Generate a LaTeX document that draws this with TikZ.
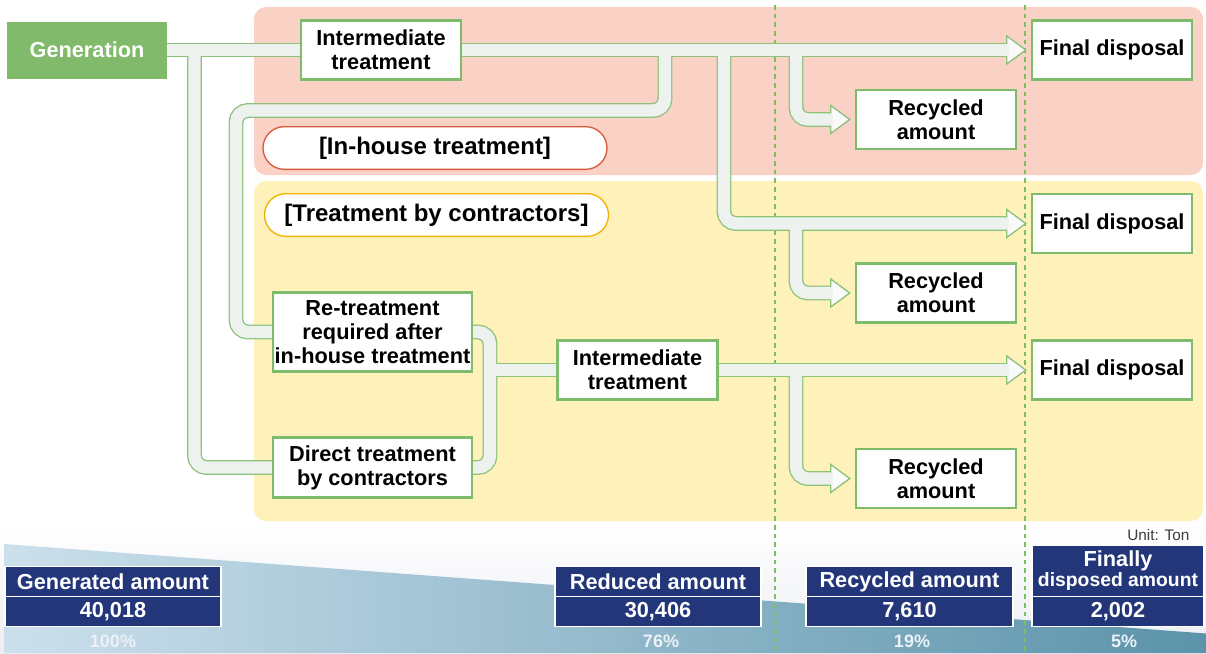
\documentclass[tikz,border=0pt]{standalone}
\usepackage{fontspec}
\setmainfont{Liberation Sans}
\usetikzlibrary{calc,positioning}

\definecolor{pinkbg}{RGB}{249,209,197}
\definecolor{yellowbg}{RGB}{254,241,186}
\definecolor{boxgreen}{RGB}{126,187,107}
\definecolor{gengreen}{RGB}{128,186,106}
\definecolor{pipegreen}{RGB}{141,194,125}
\definecolor{pipefill}{RGB}{238,242,238}
\definecolor{dashgreen}{RGB}{125,190,95}
\definecolor{navy}{RGB}{36,54,122}
\definecolor{pillred}{RGB}{214,90,62}
\definecolor{pillorange}{RGB}{240,180,0}
\definecolor{pctwhite}{RGB}{235,241,246}
\definecolor{blueleft}{RGB}{204,224,236}
\definecolor{blueright}{RGB}{91,147,170}

\newcommand\flowfont{\fontsize{16.3}{18}\selectfont\bfseries}
\newcommand\pillfont{\fontsize{18}{20}\selectfont\bfseries}

\pgfdeclarelayer{back}
\pgfdeclarelayer{edges}
\pgfdeclarelayer{heads}
\pgfdeclarelayer{cores}
\pgfsetlayers{back,edges,heads,cores,main}

\tikzset{
  flowbox/.style={draw=boxgreen, line width=1.9pt, fill=white, minimum width=120pt,
    minimum height=44pt, inner sep=1pt, align=center, font=\flowfont},
  genbox/.style={fill=gengreen, minimum width=120pt, minimum height=42.75pt,
    text=white, font=\flowfont},
  pill/.style={fill=white, line width=1pt, rounded corners=16pt, minimum width=258pt,
    minimum height=32pt, font=\pillfont},
  sumbox/.style={fill=navy, draw=white, line width=1.1pt, outer sep=0pt, text=white,
    minimum height=22.5pt, inner sep=1pt, align=center, font=\flowfont},
  pct/.style={text=pctwhite, font=\fontsize{13.5}{15}\selectfont\bfseries},
  pipeedge/.style={draw=pipegreen, line width=11.2pt},
  pipecore/.style={draw=pipefill, line width=9.2pt},
  headstyle/.style={draw=pipegreen, fill=white!98!black, line width=1pt},
  divline/.style={draw=dashgreen, line width=1.1pt, dash pattern=on 3.5pt off 3pt}
}

% pipe drawn as green edge layer plus light core layer
\newcommand\pipe[2][]{%
  \begin{pgfonlayer}{edges}\draw[pipeedge,#1] #2;\end{pgfonlayer}%
  \begin{pgfonlayer}{cores}\draw[pipecore,#1] #2;\end{pgfonlayer}}
\newcommand\pipehead[1]{%
  \begin{pgfonlayer}{heads}\filldraw[headstyle] (#1) -- ++(-19,-14) -- ++(0,28) -- cycle;\end{pgfonlayer}}

\begin{document}
\begin{tikzpicture}[x=0.75pt,y=-0.75pt]
\useasboundingbox (0,0) rectangle (1206,653);

%%% backgrounds
\begin{pgfonlayer}{back}
  \shade[top color=white, bottom color={rgb,255:red,236;green,238;blue,243}] (0,522) rectangle (1206,653);
  \shade[left color=blueleft, right color=blueright] (4,544) -- (1206,633.5) -- (1206,653) -- (4,653) -- cycle;
  \fill[pinkbg, rounded corners=9pt] (254,7) rectangle (1203,175);
  \fill[yellowbg, rounded corners=9pt] (254,181) rectangle (1203,521);
  \draw[divline] (775,5) -- (775,653);
  \draw[divline] (1025,5) -- (1025,653);
\end{pgfonlayer}

%%% flow boxes
\node[genbox] (gen) at (87,50) {Generation};
\node[flowbox] (midtop) at (381,50) {Intermediate\\treatment};
\node[flowbox] (fdA) at (1112,50) {Final disposal};
\node[flowbox] (rcA) at (936,119.5) {Recycled\\amount};
\node[flowbox] (fdB) at (1112,223.5) {Final disposal};
\node[flowbox] (rcB) at (936,293) {Recycled\\amount};
\node[flowbox, minimum width=149pt, minimum height=59pt] (retreat) at (372.5,332) {Re-treatment\\required after\\in-house treatment};
\node[flowbox, minimum width=149pt, minimum height=45pt] (direct) at (372.5,467.5) {Direct treatment\\by contractors};
\node[flowbox] (midlow) at (637.5,370) {Intermediate\\treatment};
\node[flowbox] (fdC) at (1112,370) {Final disposal};
\node[flowbox] (rcC) at (936,478.5) {Recycled\\amount};

\node[pill, draw=pillred] (inhouse) at (435,148) {[In-house treatment]};
\node[pill, draw=pillorange] (contract) at (436.5,215) {[Treatment by contractors]};

%%% junctions and arrow tips
\coordinate (jA) at (194.5,50);
\coordinate (jB) at (665,50);
\coordinate (bendB) at (236,110.5);
\coordinate (jC) at (724,50);
\coordinate (jD) at (796,50);
\coordinate (jE) at (796,223.5);
\coordinate (jF) at (490,370);
\coordinate (jG) at (796,370);
\coordinate (tA) at ($(fdA.west)+(-5,0)$);
\coordinate (tB) at ($(fdB.west)+(-5,0)$);
\coordinate (tC) at ($(fdC.west)+(-5,0)$);
\coordinate (tRA) at ($(rcA.west)+(-5,0)$);
\coordinate (tRB) at ($(rcB.west)+(-5,0)$);
\coordinate (tRC) at ($(rcC.west)+(-5,0)$);

%%% pipes
\pipe{(gen.east) -- ($(tA)+(-17,0)$)}
\pipe[rounded corners=9pt]{(jA) |- (direct.west)}
\pipe[rounded corners=9pt]{(jB) |- (bendB) |- (retreat.west)}
\pipe[rounded corners=9pt]{(jC) |- ($(tB)+(-17,0)$)}
\pipe[rounded corners=9pt]{(jD) |- ($(tRA)+(-17,0)$)}
\pipe[rounded corners=9pt]{(jE) |- ($(tRB)+(-17,0)$)}
\pipe[rounded corners=9pt]{(retreat.east) -| (jF) |- (direct.east)}
\pipe{(jF) -- (midlow.west)}
\pipe{(midlow.east) -- ($(tC)+(-17,0)$)}
\pipe[rounded corners=9pt]{(jG) |- ($(tRC)+(-17,0)$)}

\pipehead{tA}
\pipehead{tB}
\pipehead{tC}
\pipehead{tRA}
\pipehead{tRB}
\pipehead{tRC}

%%% summary bar
\node[sumbox, minimum width=162pt] (genval) at (113,611.5) {40,018};
\node[sumbox, minimum width=162pt, above=0pt of genval] (genlbl) {Generated amount};
\node[sumbox, minimum width=154.5pt] (redval) at (658,611.5) {30,406};
\node[sumbox, minimum width=154.5pt, above=0pt of redval] (redlbl) {Reduced amount};
\node[sumbox, minimum width=155pt] (recval) at (909.5,611.5) {7,610};
\node[sumbox, minimum width=155pt, above=0pt of recval] (reclbl) {Recycled amount};
\node[sumbox, minimum width=129pt] (finval) at (1118,611.5) {2,002};
\node[sumbox, minimum width=129pt, minimum height=38.25pt, font=\fontsize{14.5}{15}\selectfont\bfseries,
  above=0pt of finval] (finlbl) {{\fontsize{16.3}{15}\selectfont Finally}\\disposed amount};

\node[pct] (genpct) at (113,641) {100\%};
\node[pct] (redpct) at (661,641) {76\%};
\node[pct] (recpct) at (912,641) {19\%};
\node[pct] (finpct) at (1124,641) {5\%};

\node[anchor=east, text={rgb,255:red,60;green,60;blue,60}, font=\fontsize{11.5}{13}\selectfont] (unit) at (1194,535) {Unit: Ton};

\end{tikzpicture}
\end{document}
